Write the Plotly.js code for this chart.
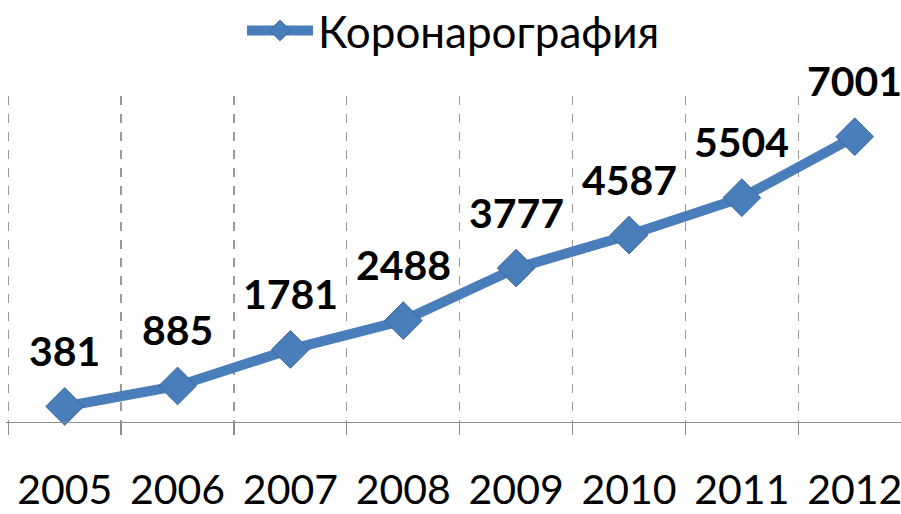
<!DOCTYPE html>
<html>
<head>
<meta charset="utf-8">
<script src="https://cdn.plot.ly/plotly-3.0.1.min.js"></script>
<style>html,body{margin:0;padding:0;background:#fff;}#chart{width:901px;height:514px;}</style>
</head>
<body>
<div id="chart"></div>
<script>
const years = ['2005','2006','2007','2008','2009','2010','2011','2012'];
const values = [381, 885, 1781, 2488, 3777, 4587, 5504, 7001];
const seriesName = 'Коронарография';

const trace = {
  x: years,
  y: values,
  type: 'scatter',
  mode: 'lines+markers',
  name: seriesName,
  line: {color: '#4a7ebb', width: 10},
  marker: {symbol: 'diamond', size: 29, color: '#4a7ebb',
           line: {color: '#3a68a0', width: 1}},
  cliponaxis: false,
  showlegend: true
};

const annotations = values.map((v, i) => ({
  x: i, y: v, xref: 'x', yref: 'y',
  text: String(v), showarrow: false, yshift: 56,
  font: {family: 'Lato, "Open Sans", sans-serif', size: 41, color: '#000', weight: 'bold'}
}));

const layout = {
  width: 901, height: 514,
  margin: {l: 6, r: 0, t: 96, b: 92},
  paper_bgcolor: '#fff', plot_bgcolor: '#fff',
  showlegend: true,
  legend: {orientation: 'h', x: 0.5, xanchor: 'center', y: 0.94, yanchor: 'middle',
           yref: 'container', itemwidth: 66,
           font: {family: 'Lato, "Open Sans", sans-serif', size: 44, color: '#000'}},
  xaxis: {type: 'category', range: [-0.52, 7.41], tickson: 'boundaries',
          showgrid: true, gridcolor: '#9a9a9a', griddash: 'dash', gridwidth: 1.3,
          showline: true, linecolor: '#8c8c8c', linewidth: 1.3,
          ticks: 'outside', ticklen: 12, tickcolor: '#8c8c8c', tickwidth: 1.3,
          ticklabelstandoff: 31,
          tickfont: {family: 'Lato, "Open Sans", sans-serif', size: 41, color: '#000'},
          zeroline: false, fixedrange: true},
  yaxis: {range: [0, 8000], showgrid: false, zeroline: false, showline: false,
          showticklabels: false, ticks: '', fixedrange: true},
  annotations: annotations
};
Plotly.newPlot('chart', [trace], layout, {displayModeBar: false, staticPlot: true});
</script>
</body>
</html>
